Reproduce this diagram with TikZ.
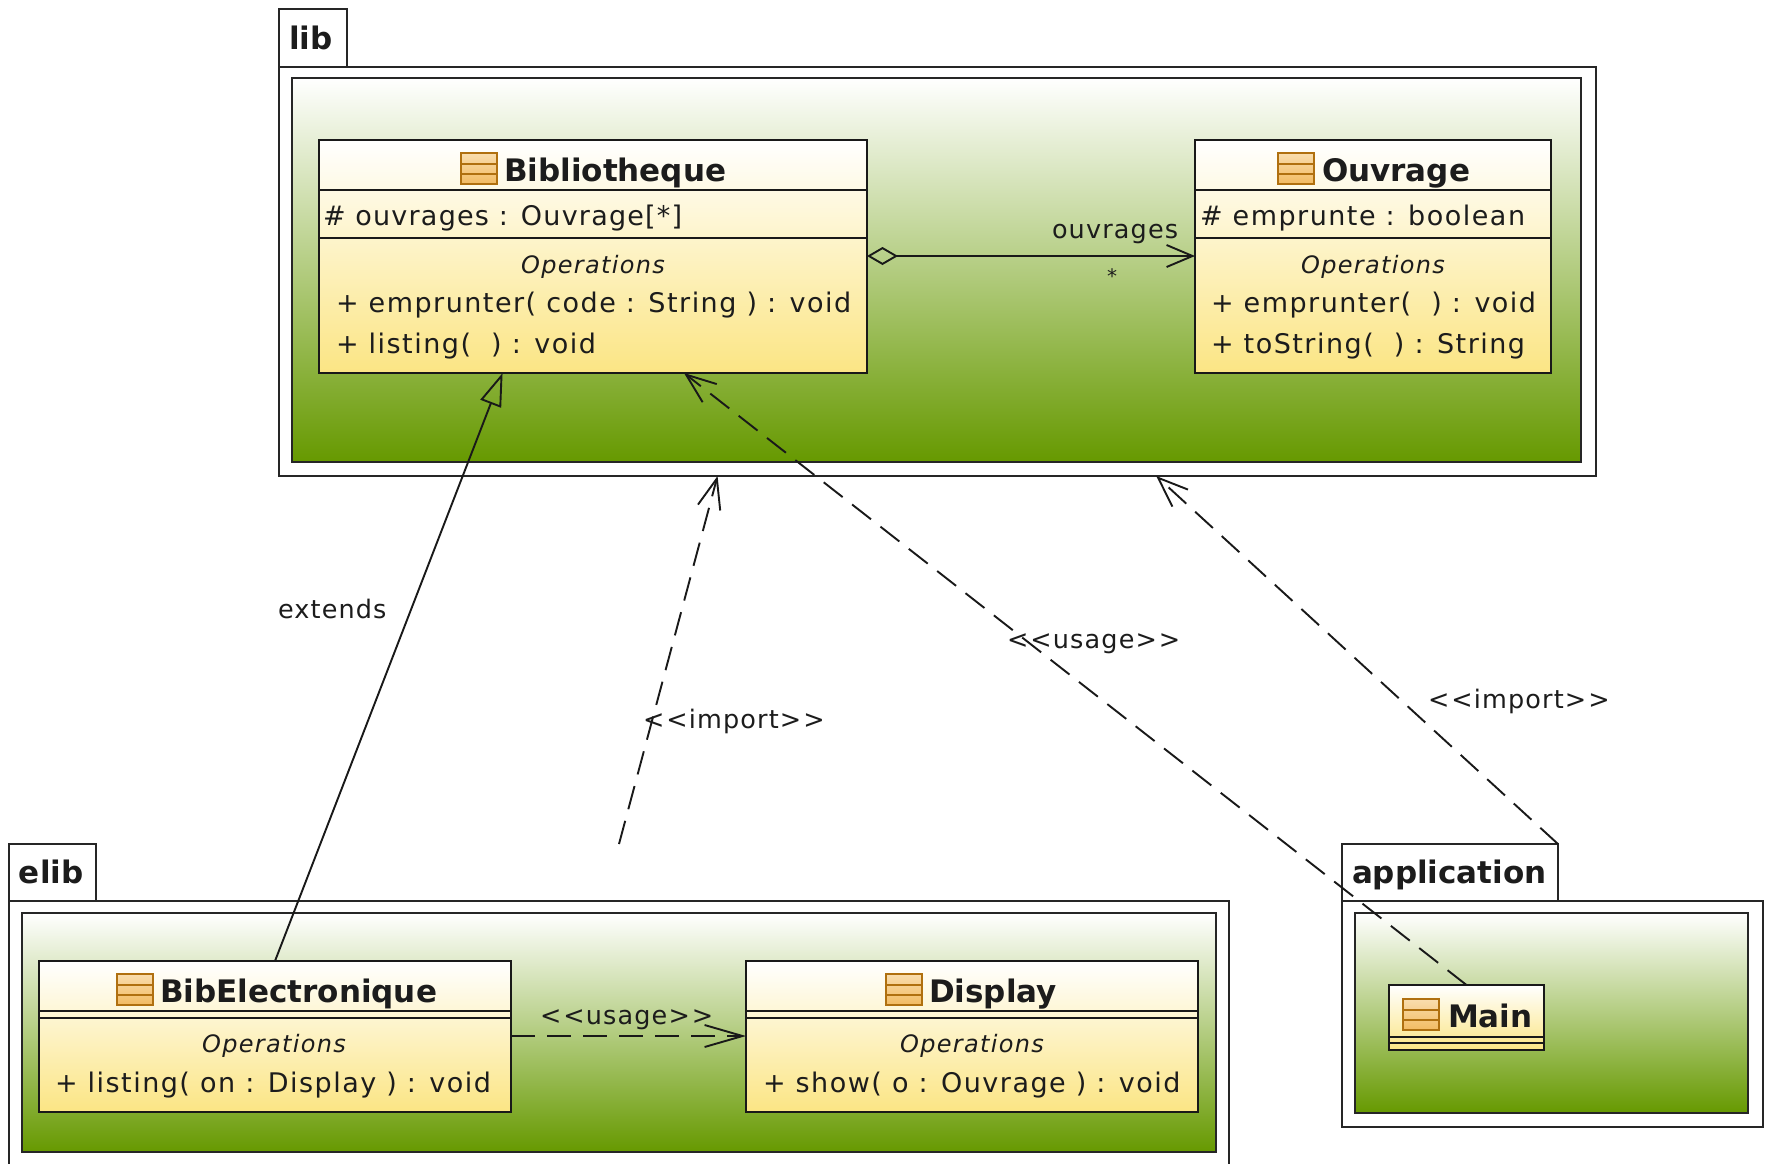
\documentclass[tikz,border=0pt]{standalone}
\usepackage{fontspec}
\setmainfont{DejaVu Sans}
\newfontfamily\lsreg[LetterSpace=4.5]{DejaVu Sans}
\newfontfamily\lsop[LetterSpace=5.5]{DejaVu Sans}
\usetikzlibrary{arrows.meta,calc}
\definecolor{inkc}{HTML}{1C1C1C}
\definecolor{pkggreen}{HTML}{669900}
\definecolor{clsyellow}{HTML}{FBE584}
\definecolor{icoedge}{HTML}{B0700F}
\definecolor{icotop}{HTML}{F9DDAE}
\definecolor{icobot}{HTML}{F2BB62}
\tikzset{
  x=1pt,y=-1pt,
  pkgouter/.style={draw=black!85,line width=2pt,fill=white,inner sep=0,outer sep=0,anchor=north west},
  pkginner/.style={draw=black!85,line width=2pt,top color=white,bottom color=pkggreen,inner sep=0,outer sep=0,anchor=north west},
  classbox/.style={draw=black!90,line width=2pt,top color=white,bottom color=clsyellow,inner sep=0,outer sep=0,anchor=north west},
  iconbox/.style={draw=icoedge,line width=2pt,top color=icotop,bottom color=icobot,inner sep=0,outer sep=0,anchor=north west,minimum width=36pt,minimum height=31pt},
  iconline/.style={draw=icoedge,line width=1.6pt},
  sep/.style={draw=black!90,line width=2pt},
  t/.style={inner sep=0,outer sep=0,text=inkc,font=\lsreg\fontsize{27}{30}\selectfont,anchor=base west},
  tm/.style={t,font=\lsop\fontsize{27}{30}\selectfont},
  tl/.style={t,font=\lsreg\fontsize{25.5}{30}\selectfont},
  ti/.style={t,font=\lsop\fontsize{24}{27}\itshape\selectfont,anchor=base},
  tb/.style={t,font=\fontsize{31}{36}\bfseries\selectfont},
  conn/.style={draw=black!90,line width=1.9pt},
  dep/.style={conn,dash pattern=on 24pt off 12pt},
  opentip/.tip={Straight Barb[length=30pt,width=23pt,line width=1.9pt]},
}
\newcommand{\clsicon}[3]{%
  \node[iconbox,minimum width=36pt,minimum height=31pt] (#1) at (#2,#3) {};
  \draw[iconline] ($(#1.north west)!.36!(#1.south west)+(1,0)$) -- ($(#1.north east)!.36!(#1.south east)+(-1,0)$);
  \draw[iconline] ($(#1.north west)!.68!(#1.south west)+(1,0)$) -- ($(#1.north east)!.68!(#1.south east)+(-1,0)$);
}
\newcommand{\hsep}[2]{\draw[sep] ($(#1.north west)+(0,#2)$) -- ($(#1.north east)+(0,#2)$);}
\begin{document}
\begin{tikzpicture}
\clip (0,0) rectangle (1770,1163);
\fill[white] (0,0) rectangle (1770,1163);

% lib package
\node[pkgouter,minimum width=68pt,minimum height=58pt] (libtab) at (279,9) {};
\node[pkgouter,minimum width=1317pt,minimum height=409pt] (lib) at (279,67) {};
\node[pkginner,minimum width=1289pt,minimum height=384pt] (libin) at (292,78) {};
\node[tb] (libname) at (289,49) {lib};

% Bibliotheque
\node[classbox,minimum width=548pt,minimum height=233pt] (bib) at (319,140) {};
\hsep{bib}{50}\hsep{bib}{98}
\clsicon{bibicon}{461}{153}
\node[tb] (bibname) at (504,181) {Bibliotheque};
\node[t] (bibattr) at (323,225) {\# ouvrages : Ouvrage[*]};
\node[ti] (bibops) at (593,273) {Operations};
\node[tm] (bibop1) at (336,312) {+ emprunter( code : String ) : void};
\node[tm] (bibop2) at (336,353) {+ listing(~~) : void};

% Ouvrage
\node[classbox,minimum width=356pt,minimum height=233pt] (ouv) at (1195,140) {};
\hsep{ouv}{50}\hsep{ouv}{98}
\clsicon{ouvicon}{1278}{153}
\node[tb] (ouvname) at (1322,181) {Ouvrage};
\node[tm] (ouvattr) at (1200,225) {\# emprunte : boolean};
\node[ti] (ouvops) at (1373,273) {Operations};
\node[tm] (ouvop1) at (1211,312) {+ emprunter(~~) : void};
\node[tm] (ouvop2) at (1211,353) {+ toString(~~) : String};

% elib package
\node[pkgouter,minimum width=87pt,minimum height=58pt] (elibtab) at (9,844) {};
\node[pkgouter,minimum width=1220pt,minimum height=300pt] (elib) at (9,901) {};
\node[pkginner,minimum width=1194pt,minimum height=239pt] (elibin) at (22,913) {};
\node[tb] (elibname) at (19,883) {elib};
\coordinate (eliborigin) at ($(elib.north)+(0,-57)$);

% BibElectronique
\node[classbox,minimum width=472pt,minimum height=151pt] (bibe) at (39,961) {};
\hsep{bibe}{50}\hsep{bibe}{57}
\clsicon{bibeicon}{117}{974}
\node[tb] (bibename) at (160,1002) {BibElectronique};
\node[ti] (bibeops) at (274,1052) {Operations};
\node[tm] (bibeop) at (55,1092) {+ listing( on : Display ) : void};

% Display
\node[classbox,minimum width=452pt,minimum height=151pt] (disp) at (746,961) {};
\hsep{disp}{50}\hsep{disp}{57}
\clsicon{dispicon}{886}{974}
\node[tb] (dispname) at (929,1002) {Display};
\node[ti] (dispops) at (972,1052) {Operations};
\node[tm] (dispop) at (763,1092) {+ show( o : Ouvrage ) : void};

% application package
\node[pkgouter,minimum width=216pt,minimum height=58pt] (apptab) at (1342,844) {};
\node[pkgouter,minimum width=421pt,minimum height=226pt] (app) at (1342,901) {};
\node[pkginner,minimum width=393pt,minimum height=200pt] (appin) at (1355,913) {};
\node[tb] (appname) at (1352,883) {application};

% Main
\node[classbox,minimum width=155pt,minimum height=65pt] (main) at (1389,985) {};
\hsep{main}{52}\hsep{main}{58}
\clsicon{mainicon}{1403}{999}
\node[tb] (mainname) at (1448,1027) {Main};

% connectors
\draw[conn,{Diamond[open,length=31pt,width=18pt,line width=1.9pt]}-{Straight Barb[length=26pt,width=22pt,line width=1.9pt]}]
  ($(bib.north east)+(0,116)$) -- ($(ouv.north west)+(0,116)$);
\draw[conn,-{Triangle[open,length=33pt,width=22pt,line width=1.9pt]}]
  (bibe.north) -- ($(bib.south west)!.335!(bib.south east)$);
\draw[dep,-opentip] (main.north) -- ($(bib.south west)!.666!(bib.south east)$);
\draw[dep,-opentip] (eliborigin) -- ($(lib.south west)!.333!(lib.south east)$);
\draw[dep,-opentip] (apptab.north east) -- ($(lib.south west)!.666!(lib.south east)$);
\draw[dep,-{Straight Barb[length=38pt,width=22pt,line width=1.9pt]}]
  ($(bibe.north east)+(0,75)$) -- ($(disp.north west)+(0,75)$);

% connector labels
\node[tl] (l1) at (1052,238) {ouvrages};
\node[t,font=\lsreg\fontsize{20}{24}\selectfont] (l2) at (1107,283) {*};
\node[tl] (l3) at (278,618) {extends};
\node[tl] (l4) at (1007,648) {<\kern2pt<usage>\kern2pt>};
\node[tl] (l5) at (643,728) {<\kern2pt<import>\kern2pt>};
\node[tl] (l6) at (1428,708) {<\kern2pt<import>\kern2pt>};
\node[tl] (l7) at (540,1024) {<\kern2pt<usage>\kern2pt>};
\end{tikzpicture}
\end{document}
